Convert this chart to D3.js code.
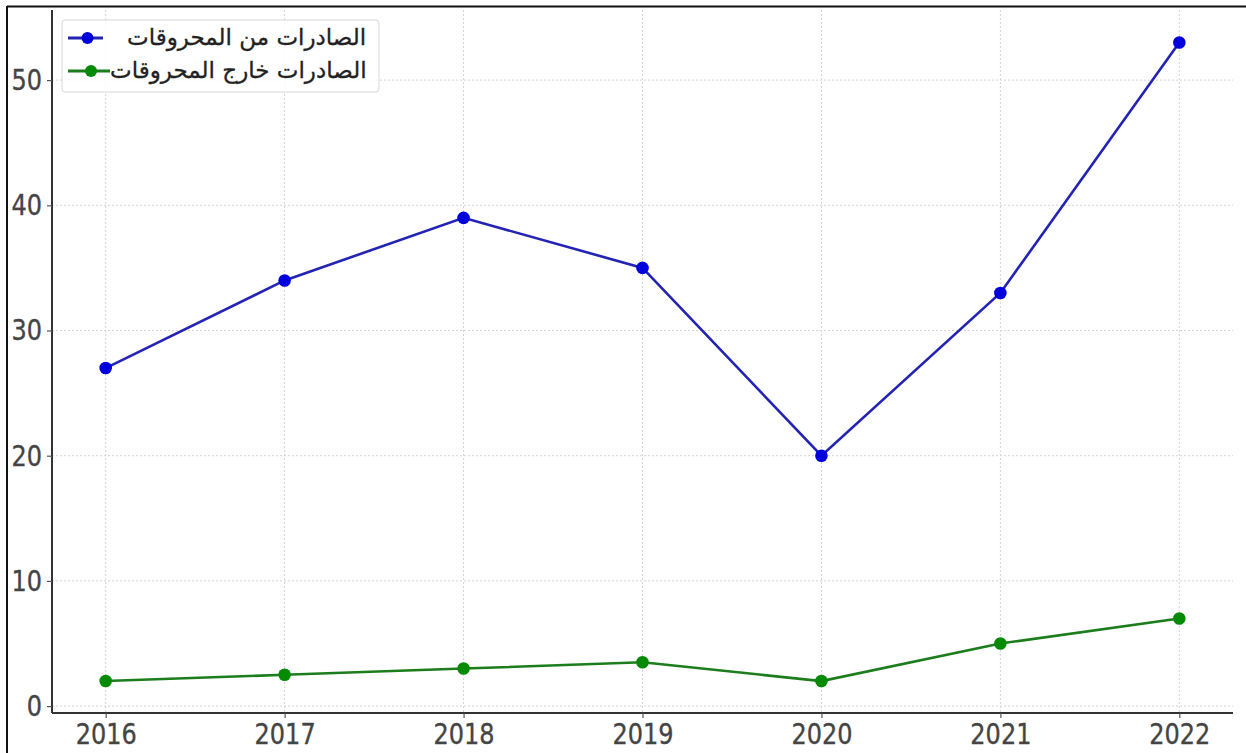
<!DOCTYPE html>
<html>
<head>
<meta charset="utf-8">
<script src="https://cdn.jsdelivr.net/npm/d3@7"></script>
<style>
  body { margin: 0; background: #fff; }
  svg { display: block; }
  .tick text { font-family: "DejaVu Sans", sans-serif; fill: #444; }
</style>
</head>
<body>
<svg id="chart" width="1246" height="753"></svg>
<script>
// values
var years = [2016, 2017, 2018, 2019, 2020, 2021, 2022];
var fuelExports = [27, 34, 39, 35, 20, 33, 53];
var nonFuelExports = [2, 2.5, 3, 3.5, 2, 5, 7];
var yTicks = [0, 10, 20, 30, 40, 50];
var seriesNames = ['الصادرات من المحروقات', 'الصادرات خارج المحروقات'];

var svg = d3.select('#chart');

// plot box (matplotlib-ish margins)
var plotLeft = 52, plotRight = 1233, plotTop = 10, plotBottom = 713;

var x = d3.scaleLinear()
    .domain([2015.7, 2022.3])
    .range([plotLeft, plotRight]);

var y = d3.scaleLinear()
    .domain([-0.55, 55.6])
    .range([plotBottom, plotTop]);

// grid
var grid = svg.append('g');
grid.selectAll('line.v')
    .data(years)
    .enter().append('line')
    .attr('x1', d => x(d)).attr('x2', d => x(d))
    .attr('y1', plotTop).attr('y2', plotBottom)
    .attr('stroke', '#d4d4d4').attr('stroke-width', 1)
    .attr('stroke-dasharray', '2,2');
grid.selectAll('line.h')
    .data(yTicks)
    .enter().append('line')
    .attr('x1', plotLeft).attr('x2', plotRight)
    .attr('y1', d => y(d)).attr('y2', d => y(d))
    .attr('stroke', '#d4d4d4').attr('stroke-width', 1)
    .attr('stroke-dasharray', '2,2');

// axes
var xAxis = svg.append('g')
    .attr('transform', 'translate(0,' + plotBottom + ')')
    .call(d3.axisBottom(x).tickValues(years).tickFormat(d3.format('d')).tickSize(5).tickPadding(7));
var yAxis = svg.append('g')
    .attr('transform', 'translate(' + plotLeft + ',0)')
    .call(d3.axisLeft(y).tickValues(yTicks).tickSize(5).tickPadding(5));

[xAxis, yAxis].forEach(function (g) {
    g.select('.domain').attr('stroke', '#333').attr('stroke-width', 2);
    g.selectAll('.tick line').attr('stroke', '#555').attr('stroke-width', 1.2);
    g.selectAll('.tick text')
        .attr('font-size', 24)
        .attr('stroke', '#444').attr('stroke-width', 0.3)
        .style('transform-box', 'fill-box')
        .style('transform-origin', 'center')
        .style('transform', 'scaleY(1.2)');
});
xAxis.select('.domain').attr('d', 'M' + plotLeft + ',0H' + plotRight);
yAxis.select('.domain').attr('d', 'M0,' + plotTop + 'V' + plotBottom);

// series
var series = [
    { name: seriesNames[0], values: fuelExports, line: '#2323b4', dot: '#0000dd' },
    { name: seriesNames[1], values: nonFuelExports, line: '#1b7d1b', dot: '#058a05' }
];

var line = d3.line()
    .x((d, i) => x(years[i]))
    .y(d => y(d));

series.forEach(function (s) {
    svg.append('path')
        .datum(s.values)
        .attr('d', line)
        .attr('fill', 'none')
        .attr('stroke', s.line)
        .attr('stroke-width', 2.6);
    svg.selectAll(null)
        .data(s.values)
        .enter().append('circle')
        .attr('cx', (d, i) => x(years[i]))
        .attr('cy', d => y(d))
        .attr('r', 6.3)
        .attr('fill', s.dot);
});

// legend
var legend = svg.append('g');
legend.append('rect')
    .attr('x', 62).attr('y', 20)
    .attr('width', 317).attr('height', 72)
    .attr('rx', 3)
    .attr('fill', 'rgba(255,255,255,0.85)')
    .attr('stroke', '#d8d8d8');

var rows = [
    { y: 38, x1: 68, x2: 103, tx: 127 },
    { y: 71, x1: 68, x2: 110, tx: 110 }
];
series.forEach(function (s, i) {
    var r = rows[i];
    legend.append('line')
        .attr('x1', r.x1).attr('x2', r.x2)
        .attr('y1', r.y).attr('y2', r.y)
        .attr('stroke', s.line).attr('stroke-width', 2.8);
    legend.append('circle')
        .attr('cx', (r.x1 + r.x2) / 2 + 2).attr('cy', r.y)
        .attr('r', 6).attr('fill', s.dot);
    legend.append('text')
        .attr('x', r.tx).attr('y', r.y + 7)
        .attr('font-family', 'DejaVu Sans, sans-serif')
        .attr('font-size', 23)
        .attr('fill', '#222')
        .attr('stroke', '#222').attr('stroke-width', 0.3)
        .text(s.name);
});

// screenshot frame
svg.append('line')
    .attr('x1', 7).attr('x2', 1246).attr('y1', 6.5).attr('y2', 6.5)
    .attr('stroke', '#111').attr('stroke-width', 2);
svg.append('line')
    .attr('x1', 7).attr('x2', 7).attr('y1', 6).attr('y2', 753)
    .attr('stroke', '#111').attr('stroke-width', 2);
</script>
</body>
</html>
